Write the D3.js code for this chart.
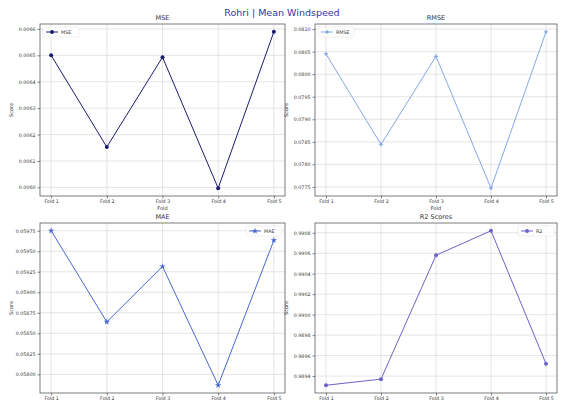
<!DOCTYPE html>
<html>
<head>
<meta charset="utf-8">
<script src="https://cdn.jsdelivr.net/npm/d3@7"></script>
<style>
  html, body { margin: 0; padding: 0; background: #fff; }
  svg { display: block; font-family: "DejaVu Sans", sans-serif; }
</style>
</head>
<body>
<svg id="chart" width="564" height="403"></svg>
<script>
// Fold labels shared by every panel
const folds = ["Fold 1", "Fold 2", "Fold 3", "Fold 4", "Fold 5"];

// Per-fold scores
const mseValues  = [0.006500, 0.006153, 0.006493, 0.005997, 0.006589];
const rmseValues = [0.080449, 0.078441, 0.080396, 0.077472, 0.080940];
const maeValues  = [0.059750, 0.058639, 0.059315, 0.057867, 0.059633];
const r2Values   = [0.98931, 0.98937, 0.99058, 0.99082, 0.98952];

// Y tick values for each panel
const mseTicks  = [0.0060, 0.0061, 0.0062, 0.0063, 0.0064, 0.0065, 0.0066];
const rmseTicks = [0.0775, 0.0780, 0.0785, 0.0790, 0.0795, 0.0800, 0.0805, 0.0810];
const maeTicks  = [0.05800, 0.05825, 0.05850, 0.05875, 0.05900, 0.05925, 0.05950, 0.05975];
const r2Ticks   = [0.9894, 0.9896, 0.9898, 0.9900, 0.9902, 0.9904, 0.9906, 0.9908];

const panels = [
  { title: "MSE", name: "MSE", values: mseValues, ticks: mseTicks, fmt: ".4f",
    color: "#1c1c6e", marker: "circle", legend: "left",
    box: { x: 40, y: 24, w: 245, h: 172 }, xlabel: true },
  { title: "RMSE", name: "RMSE", values: rmseValues, ticks: rmseTicks, fmt: ".4f",
    color: "#86a8e6", marker: "plus", legend: "left",
    box: { x: 315, y: 24, w: 242, h: 172 }, xlabel: true },
  { title: "MAE", name: "MAE", values: maeValues, ticks: maeTicks, fmt: ".5f",
    color: "#4a68d0", marker: "star", legend: "right",
    box: { x: 40, y: 223, w: 245, h: 170 }, xlabel: false },
  { title: "R2 Scores", name: "R2", values: r2Values, ticks: r2Ticks, fmt: ".4f",
    color: "#6b63c8", marker: "circle", legend: "right",
    box: { x: 315, y: 223, w: 242, h: 170 }, xlabel: false }
];

const svg = d3.select("#chart");

svg.append("text")
  .attr("x", 282).attr("y", 16)
  .attr("text-anchor", "middle")
  .attr("font-size", 9.5)
  .attr("fill", "#3434a6")
  .text("Rohri | Mean Windspeed");

function drawMarker(g, type, cx, cy, color, r) {
  if (type === "circle") {
    g.append("circle").attr("cx", cx).attr("cy", cy).attr("r", r).attr("fill", color);
  } else if (type === "star") {
    g.append("path")
      .attr("d", d3.symbol(d3.symbolStar, r * r * 3.2)())
      .attr("transform", `translate(${cx},${cy})`)
      .attr("fill", color);
  } else {
    g.append("path")
      .attr("d", d3.symbol(d3.symbolCross, r * r * 2)())
      .attr("transform", `translate(${cx},${cy})`)
      .attr("fill", color);
  }
}

panels.forEach(p => {
  const b = p.box;
  const g = svg.append("g").attr("transform", `translate(${b.x},${b.y})`);

  const x = d3.scaleLinear().domain([-0.2, folds.length - 1 + 0.2]).range([0, b.w]);
  const [lo, hi] = d3.extent(p.values);
  const pad = (hi - lo) * 0.05;
  const y = d3.scaleLinear().domain([lo - pad, hi + pad]).range([b.h, 0]);

  // grid
  g.append("g").selectAll("line").data(folds.map((d, i) => i)).join("line")
    .attr("x1", d => x(d)).attr("x2", d => x(d))
    .attr("y1", 0).attr("y2", b.h)
    .attr("stroke", "#d4d4d4").attr("stroke-width", 0.6);
  g.append("g").selectAll("line").data(p.ticks).join("line")
    .attr("x1", 0).attr("x2", b.w)
    .attr("y1", d => y(d)).attr("y2", d => y(d))
    .attr("stroke", "#d4d4d4").attr("stroke-width", 0.6);

  // axes
  const xAxis = d3.axisBottom(x).tickValues(folds.map((d, i) => i))
    .tickFormat(i => folds[i]).tickSize(2.5).tickPadding(1.5);
  const gx = g.append("g").attr("transform", `translate(0,${b.h})`).call(xAxis);
  const yAxis = d3.axisLeft(y).tickValues(p.ticks).tickFormat(d3.format(p.fmt))
    .tickSize(2.5).tickPadding(2);
  const gy = g.append("g").call(yAxis);
  [gx, gy].forEach(a => {
    a.select(".domain").remove();
    a.selectAll("line").attr("stroke", "#333").attr("stroke-width", 0.6);
    a.selectAll("text").attr("font-size", 4.8).attr("fill", "#333")
      .attr("font-family", "DejaVu Sans, sans-serif");
  });

  // frame
  g.append("rect").attr("width", b.w).attr("height", b.h)
    .attr("fill", "none").attr("stroke", "#444").attr("stroke-width", 0.7);

  // title and labels
  g.append("text").attr("x", b.w / 2).attr("y", -4).attr("text-anchor", "middle")
    .attr("font-size", 6.5).attr("fill", "#333").text(p.title);
  g.append("text")
    .attr("transform", `translate(${-27},${b.h / 2}) rotate(-90)`)
    .attr("text-anchor", "middle").attr("font-size", 5).attr("fill", "#333").text("Score");
  if (p.xlabel) {
    g.append("text").attr("x", b.w / 2).attr("y", b.h + 14).attr("text-anchor", "middle")
      .attr("font-size", 5).attr("fill", "#333").text("Fold");
  }

  // series
  const line = d3.line().x((d, i) => x(i)).y(d => y(d));
  g.append("path").datum(p.values).attr("d", line)
    .attr("fill", "none").attr("stroke", p.color).attr("stroke-width", 1);
  p.values.forEach((v, i) => drawMarker(g, p.marker, x(i), y(v), p.color, 2));

  // legend
  const lw = 36, lh = 10;
  const lx = p.legend === "left" ? 3 : b.w - lw - 3;
  const lg = g.append("g").attr("transform", `translate(${lx},3)`);
  lg.append("rect").attr("width", lw).attr("height", lh).attr("rx", 1.5)
    .attr("fill", "#fff").attr("fill-opacity", 0.8)
    .attr("stroke", "#ddd").attr("stroke-width", 0.5);
  lg.append("line").attr("x1", 3).attr("x2", 15).attr("y1", lh / 2).attr("y2", lh / 2)
    .attr("stroke", p.color).attr("stroke-width", 1);
  drawMarker(lg, p.marker, 9, lh / 2, p.color, 2);
  lg.append("text").attr("x", 18).attr("y", lh / 2 + 1.7)
    .attr("font-size", 4.8).attr("fill", "#333").text(p.name);
});
</script>
</body>
</html>
